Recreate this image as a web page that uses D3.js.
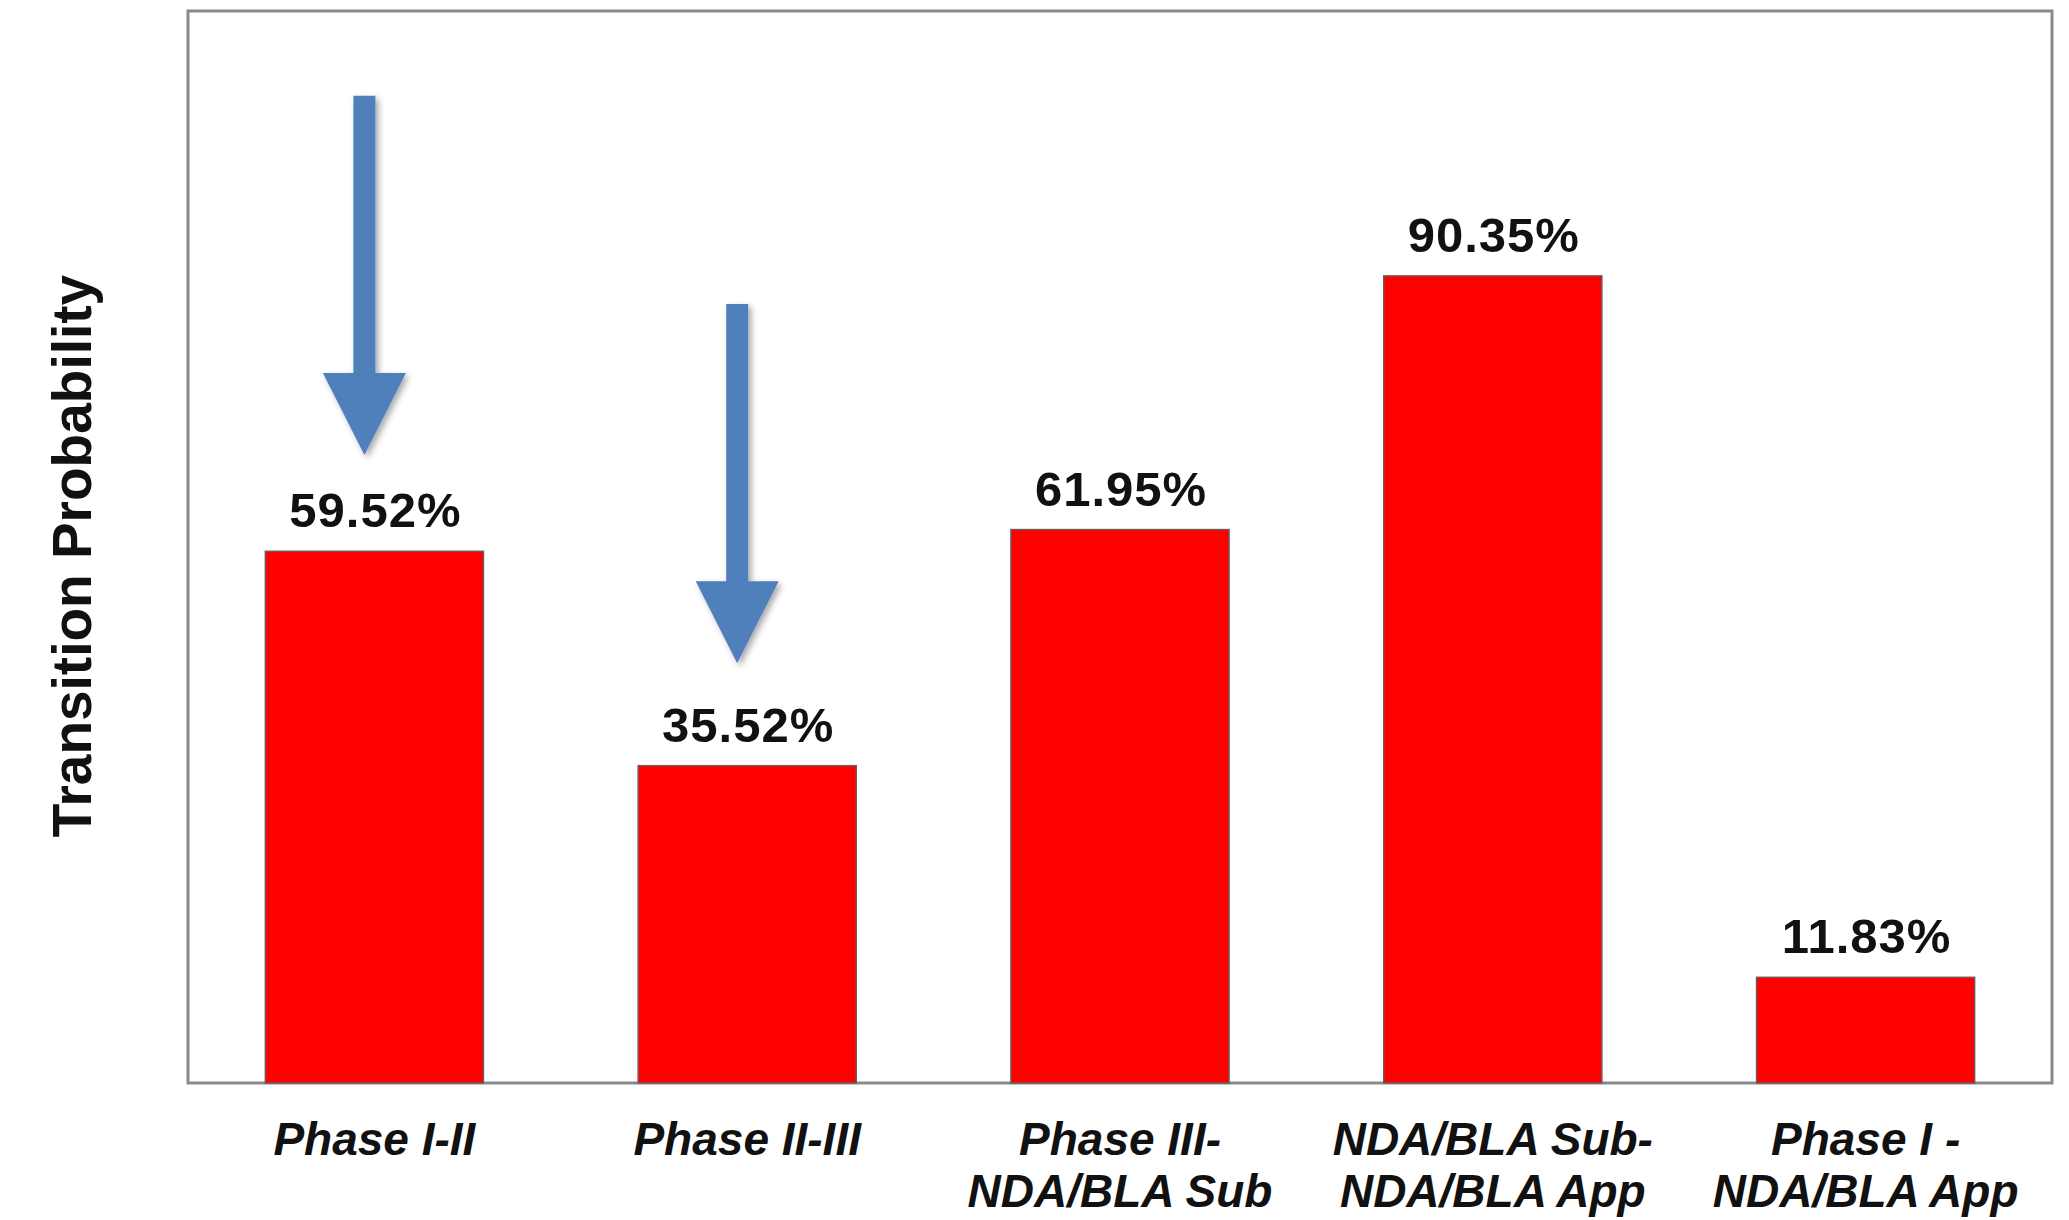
<!DOCTYPE html>
<html>
<head>
<meta charset="utf-8">
<script src="https://cdn.jsdelivr.net/npm/d3@7"></script>
<style>
    body { margin: 0; background: #fff; }
    svg text { font-family: "Liberation Sans", Arial, sans-serif; fill: #111; }
</style>
</head>
<body>
<svg id="chart" width="2069" height="1220"></svg>
<script>
"use strict";

const categories = [
    ["Phase I-II"],
    ["Phase II-III"],
    ["Phase III-", "NDA/BLA Sub"],
    ["NDA/BLA Sub-", "NDA/BLA App"],
    ["Phase I -", "NDA/BLA App"]
];
const probabilities = [59.52, 35.52, 61.95, 90.35, 11.83];
const yDomain = [0, 120];

// arrows drawn above the first two bars (values in % units)
const arrowCats = [0, 1];
const arrowFrom = [110.5, 87.2];
const arrowTo = [70.3, 47.0];

const svg = d3.select("#chart");
svg.selectAll("*").remove();

const plotLeft = 188, plotTop = 11, plotRight = 2052, plotBottom = 1083;
const width = plotRight - plotLeft;
const height = plotBottom - plotTop;

const defs = svg.append("defs");
const shadow = defs.append("filter").attr("id", "shadow")
    .attr("x", "-50%").attr("y", "-10%").attr("width", "200%").attr("height", "130%");
shadow.append("feDropShadow")
    .attr("dx", 3).attr("dy", 3).attr("stdDeviation", 3)
    .attr("flood-color", "#000").attr("flood-opacity", 0.35);

const chart = svg.append("g").attr("transform", `translate(${plotLeft}, ${plotTop})`);

const keys = categories.map((c) => c.join(" "));

const xScale = d3.scaleBand()
    .range([0, width])
    .domain(keys)
    .paddingInner(0.415)
    .paddingOuter(0.2075);

const yScale = d3.scaleLinear().range([height, 0]).domain(yDomain);

// plot frame
chart.append("rect")
    .attr("x", 0).attr("y", 0)
    .attr("width", width).attr("height", height)
    .attr("fill", "none")
    .attr("stroke", "#8a8a8a")
    .attr("stroke-width", 3);

const sample = keys.map((k, i) => ({ key: k, value: probabilities[i] }));

const barGroups = chart.selectAll(".bar").data(sample).enter().append("g");

barGroups.append("rect")
    .attr("class", "bar")
    .attr("x", (d) => xScale(d.key))
    .attr("y", (d) => yScale(d.value))
    .attr("width", xScale.bandwidth())
    .attr("height", (d) => height - yScale(d.value))
    .attr("fill", "#ff0000")
    .attr("stroke", "#6e5a5a")
    .attr("stroke-width", 1.5);

barGroups.append("text")
    .attr("class", "value")
    .attr("x", (d) => xScale(d.key) + xScale.bandwidth() / 2 + 1)
    .attr("y", (d) => yScale(d.value) - 24)
    .attr("text-anchor", "middle")
    .style("font-size", "49px")
    .style("font-weight", "bold")
    .style("letter-spacing", "1px")
    .text((d) => d.value.toFixed(2) + "%");

// x axis (labels only)
const xAxis = chart.append("g")
    .attr("transform", `translate(0, ${height})`)
    .call(d3.axisBottom(xScale).tickSize(0).tickFormat(""));
xAxis.select(".domain").remove();

xAxis.selectAll(".tick").each(function (k, i) {
    const t = d3.select(this).append("text")
        .attr("y", 72)
        .attr("text-anchor", "middle")
        .style("font-size", "46px")
        .style("font-weight", "bold")
        .style("font-style", "italic");
    categories[i].forEach((line, j) => {
        t.append("tspan").attr("x", 0).attr("dy", j === 0 ? 0 : 52).text(line);
    });
});

// y axis title
svg.append("text")
    .attr("transform", "translate(91, 556) rotate(-90)")
    .attr("text-anchor", "middle")
    .style("font-size", "55px")
    .style("font-weight", "bold")
    .text("Transition Probability");

// down arrows
const shaftW = 22, headW = 83, headH = 82;
arrowCats.forEach((ci, i) => {
    const cx = xScale(keys[ci]) + xScale.bandwidth() / 2 - 10;
    const y0 = yScale(arrowFrom[i]);
    const y1 = yScale(arrowTo[i]);
    const yh = y1 - headH;
    const path = d3.path();
    path.moveTo(cx - shaftW / 2, y0);
    path.lineTo(cx + shaftW / 2, y0);
    path.lineTo(cx + shaftW / 2, yh);
    path.lineTo(cx + headW / 2, yh);
    path.lineTo(cx, y1);
    path.lineTo(cx - headW / 2, yh);
    path.lineTo(cx - shaftW / 2, yh);
    path.closePath();
    chart.append("path")
        .attr("d", path.toString())
        .attr("fill", "#4f80bc")
        .attr("filter", "url(#shadow)");
});
</script>
</body>
</html>
